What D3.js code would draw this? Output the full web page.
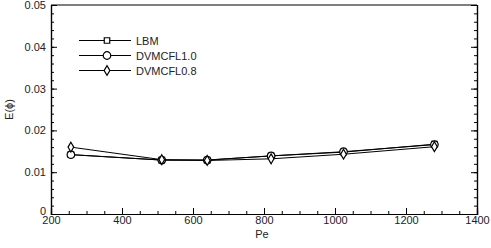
<!DOCTYPE html>
<html>
<head>
<meta charset="utf-8">
<script src="https://cdn.jsdelivr.net/npm/d3@7"></script>
<style>
    body { margin: 0; background: #fff; }
    text { font-family: "Liberation Sans", Arial, sans-serif; font-size: 11px; fill: #222; }
    .line { fill: none; stroke: #000; stroke-width: 1; }
    .marker { fill: #fff; stroke: #000; stroke-width: 1.2; }
</style>
</head>
<body>
<div id="chart"></div>
<script>
const [svgW, svgH] = [491, 248];
const MARGIN = {left: 51, right: 14, top: 5, bottom: 34};

const pe = [256, 512, 640, 820, 1024, 1280];
const lbm = [0.0142, 0.0129, 0.0129, 0.0139, 0.0148, 0.0167];
const dvm10 = [0.0142, 0.0129, 0.0129, 0.0139, 0.0149, 0.0166];
const dvm08 = [0.0160, 0.0130, 0.0128, 0.0132, 0.0143, 0.0161];
const seriesNames = ['LBM', 'DVMCFL1.0', 'DVMCFL0.8'];
const markerTypes = [d3.symbolSquare, d3.symbolCircle, d3.symbolDiamond];
const markerSizes = [30, 45, 28];
const xTicks = [200, 400, 600, 800, 1000, 1200, 1400];
const yTicks = [0, 0.01, 0.02, 0.03, 0.04, 0.05];

const W = svgW - MARGIN.left - MARGIN.right;
const H = svgH - MARGIN.top - MARGIN.bottom;

let svg = d3.select('#chart').append('svg').attr('width', svgW).attr('height', svgH);
let g = svg.append('g').attr('transform', 'translate(' + MARGIN.left + ',' + MARGIN.top + ')');

let x = d3.scaleLinear().domain([200, 1400]).range([0, W]);
let y = d3.scaleLinear().domain([0, 0.05]).range([H, 0]);

function tickFmtY(d) {
    return d === 0 ? '0' : d3.format('.2f')(d);
}

// minor ticks first, then major with labels
g.append('g').attr('transform', 'translate(0,' + H + ')')
    .call(d3.axisBottom(x).tickValues(d3.range(200, 1401, 50)).tickSize(-3).tickFormat(''));
g.append('g').attr('transform', 'translate(0,' + H + ')')
    .call(d3.axisBottom(x).tickValues(xTicks).tickSize(-6).tickPadding(2).tickFormat(d3.format('d')));
g.append('g')
    .call(d3.axisLeft(y).tickValues(d3.range(0, 0.0501, 0.002)).tickSize(-3).tickFormat(''));
let yAxisG = g.append('g')
    .call(d3.axisLeft(y).tickValues(yTicks).tickSize(-6).tickPadding(5).tickFormat(tickFmtY));
g.append('g').attr('transform', 'translate(' + W + ',0)')
    .call(d3.axisRight(y).tickValues(d3.range(0, 0.0501, 0.002)).tickSize(-3).tickFormat(''));
g.append('g').attr('transform', 'translate(' + W + ',0)')
    .call(d3.axisRight(y).tickValues(yTicks).tickSize(-6).tickFormat(''));

g.selectAll('.domain').attr('stroke', '#000').attr('stroke-width', 1.2);
g.selectAll('.tick line').attr('stroke', '#000');
g.selectAll('.tick text').style('font-size', '11px').attr('fill', '#222');
// the "0" sits a bit above the corner, like the original
yAxisG.selectAll('.tick text').filter(function (d) { return d === 0; }).attr('dy', '0.05em');

g.append('line').attr('x1', 0).attr('x2', W).attr('y1', 0).attr('y2', 0)
    .attr('stroke', '#000').attr('stroke-width', 1.2);

// lines & markers
let allSeries = [lbm, dvm10, dvm08];
let line = d3.line().x(function (d, i) { return x(pe[i]); }).y(function (d) { return y(d); });

allSeries.forEach(function (s, k) {
    g.append('path').datum(s).attr('class', 'line').attr('d', line);
});
allSeries.forEach(function (s, k) {
    let sym = d3.symbol().type(markerTypes[k]).size(markerSizes[k]);
    g.selectAll('.m' + k).data(s).enter().append('path')
        .attr('class', 'marker')
        .attr('d', sym)
        .attr('transform', function (d, i) { return 'translate(' + x(pe[i]) + ',' + y(d) + ')'; });
});

// legend
let legend = svg.append('g');
seriesNames.forEach(function (name, k) {
    let ly = 40.5 + k * 15;
    legend.append('line').attr('x1', 79).attr('x2', 131).attr('y1', ly).attr('y2', ly)
        .attr('stroke', '#000').attr('stroke-width', 1);
    legend.append('path').attr('class', 'marker')
        .attr('d', d3.symbol().type(markerTypes[k]).size(markerSizes[k]))
        .attr('transform', 'translate(107,' + ly + ')');
    legend.append('text').attr('x', 136).attr('y', ly + 4).text(name);
});

// axis titles
svg.append('text').attr('x', 262).attr('y', 238)
    .attr('text-anchor', 'middle').text('Pe');
svg.append('text').attr('transform', 'translate(13,' + (MARGIN.top + H / 2) + ') rotate(-90)')
    .attr('text-anchor', 'middle').text('E(\u03D5)');
</script>
</body>
</html>
